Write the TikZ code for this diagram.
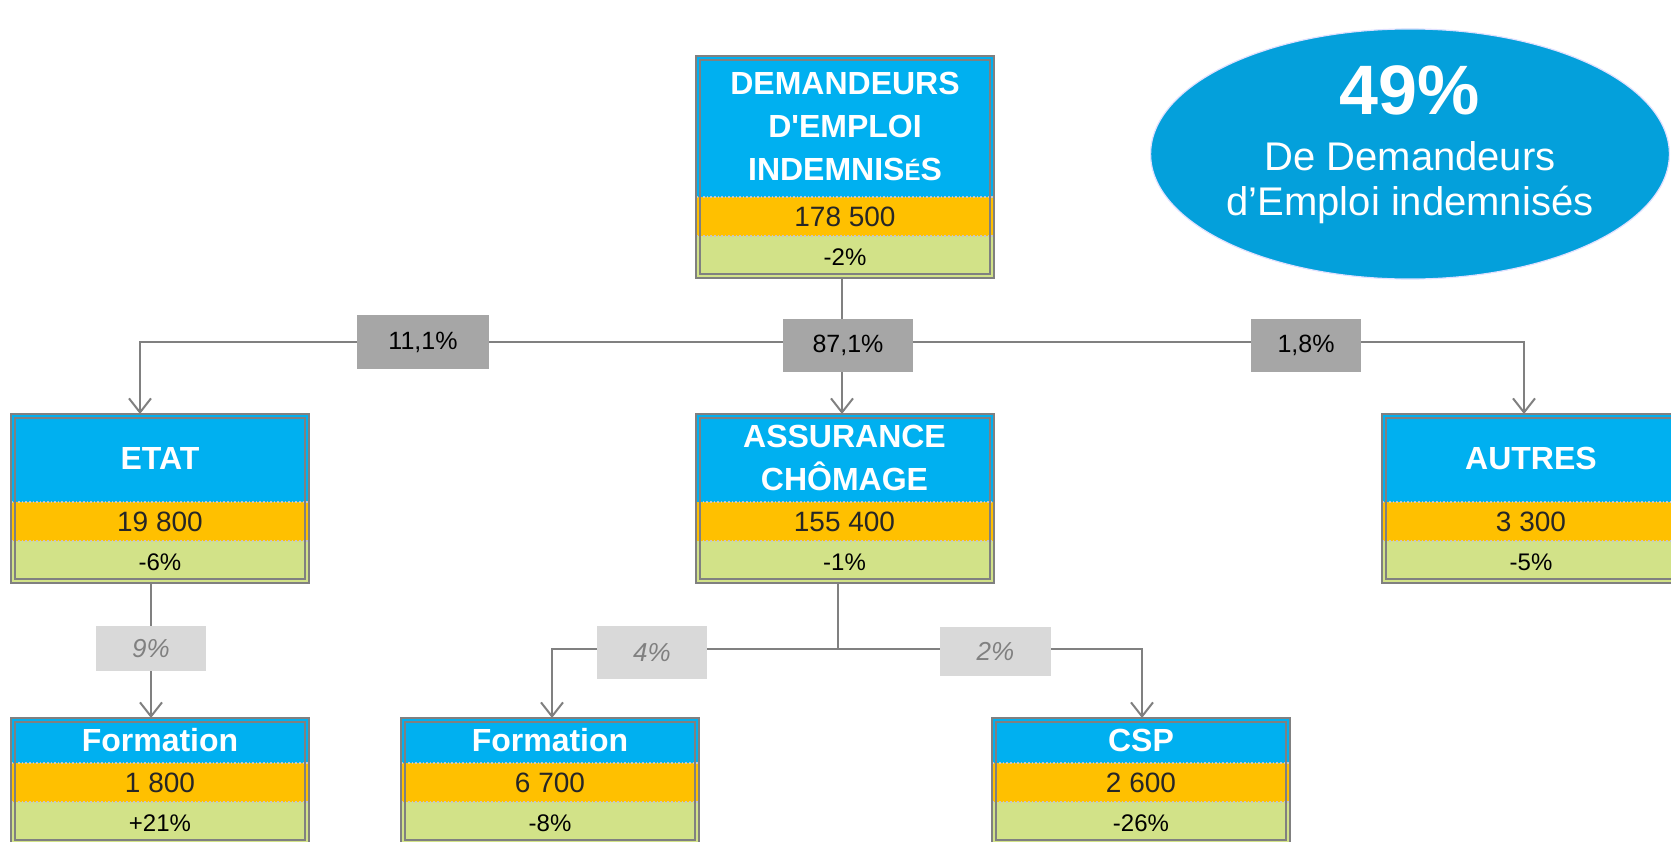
\documentclass[tikz,border=0pt]{standalone}
\usepackage{fontspec}
\setmainfont{Liberation Sans}
\usetikzlibrary{positioning,shapes.geometric,arrows.meta,backgrounds}

\definecolor{headblue}{RGB}{0,176,240}
\definecolor{amber}{RGB}{255,192,0}
\definecolor{lime}{RGB}{210,226,136}
\definecolor{framegray}{RGB}{128,128,128}
\definecolor{tagdark}{RGB}{166,166,166}
\definecolor{taglight}{RGB}{217,217,217}
\definecolor{bubbleblue}{RGB}{4,160,219}
\definecolor{numtext}{RGB}{38,38,38}

\begin{document}
\begin{tikzpicture}[x=0.5pt, y=-0.5pt,
        head/.style={rectangle, fill=headblue, text=white, font=\fontsize{16}{21.5}\selectfont\bfseries, minimum width=149pt, align=center, inner sep=0pt, outer sep=0pt},
        count/.style={rectangle, fill=amber, text=numtext, font=\fontsize{14}{16}\selectfont, minimum width=149pt, minimum height=19.5pt, inner sep=0pt, outer sep=0pt},
        change/.style={rectangle, fill=lime, text=black, font=\fontsize{12}{14}\selectfont, minimum width=149pt, minimum height=21pt, inner sep=0pt, outer sep=0pt},
        frame/.style={draw=framegray, line width=1pt},
        splitline/.style={draw=gray!45, line width=0.8pt, densely dotted},
        share/.style={rectangle, fill=tagdark, text=black, font=\fontsize{12.5}{14}\selectfont, inner sep=0pt},
        subshare/.style={rectangle, fill=taglight, text=black!50, font=\fontsize{13}{14}\selectfont\itshape, inner sep=0pt},
        link/.style={draw=framegray, line width=1pt},
        flow/.style={link, -{Straight Barb[length=7pt,width=11pt]}},
        bubble/.style={ellipse, fill=bubbleblue, draw=blue!12, line width=0.6pt, text=white, minimum width=258pt, minimum height=125pt, inner sep=0pt, align=center, font=\fontsize{20}{22.5}\selectfont}
    ]
    \useasboundingbox (0,0) rectangle (1671,841);

    % Share of the total
    \node[bubble] (bub) at (1410,154) {{\fontsize{35}{35}\selectfont\bfseries 49\%}\\[5.5pt]De Demandeurs\\d’Emploi indemnisés\rule[-13.5pt]{0pt}{0pt}};

    % Top box
    \node[head, minimum height=70.5pt] (dem) at (845,126.5) {DEMANDEURS\\D\textquotesingle EMPLOI\\INDEMNIS{\fontsize{12}{12}\selectfont É}S};
    \node[count, below=0pt of dem] (dem-n) {178 500};
    \node[change, below=0pt of dem-n] (dem-p) {-2\%};

    % Second row
    \node[head, minimum height=44pt] (etat) at (160,458) {ETAT};
    \node[count, below=0pt of etat] (etat-n) {19 800};
    \node[change, below=0pt of etat-n] (etat-p) {-6\%};

    \node[head, minimum height=44pt] (assur) at (844.5,458) {ASSURANCE\\CHÔMAGE};
    \node[count, below=0pt of assur] (assur-n) {155 400};
    \node[change, below=0pt of assur-n] (assur-p) {-1\%};

    \node[head, minimum height=44pt] (autres) at (1531,458) {AUTRES};
    \node[count, below=0pt of autres] (autres-n) {3 300};
    \node[change, below=0pt of autres-n] (autres-p) {-5\%};

    % Third row
    \node[head, minimum height=22.5pt] (form1) at (160,740.5) {Formation};
    \node[count, below=0pt of form1] (form1-n) {1 800};
    \node[change, below=0pt of form1-n] (form1-p) {+21\%};

    \node[head, minimum height=22.5pt] (form2) at (550,740.5) {Formation};
    \node[count, below=0pt of form2] (form2-n) {6 700};
    \node[change, below=0pt of form2-n] (form2-p) {-8\%};

    \node[head, minimum height=22.5pt] (csp) at (1141,740.5) {CSP};
    \node[count, below=0pt of csp] (csp-n) {2 600};
    \node[change, below=0pt of csp-n] (csp-p) {-26\%};

    \foreach \b in {dem,etat,assur,autres,form1,form2,csp} {
        \draw[splitline] (\b-n.north west) -- (\b-n.north east);
        \draw[splitline] (\b-p.north west) -- (\b-p.north east);
        \draw[frame] (\b.north west) rectangle (\b-p.south east);
        \draw[frame] ([shift={(2pt,-2pt)}]\b.north west) rectangle ([shift={(-2pt,2pt)}]\b-p.south east);
    }

    % Percent tags
    \node[share, minimum width=66pt, minimum height=27pt] (s111) at (423,342) {11,1\%};
    \node[share, minimum width=65pt, minimum height=26.5pt] (s871) at (848,345.5) {87,1\%};
    \node[share, minimum width=55pt, minimum height=26.5pt] (s18) at (1306,345.5) {1,8\%};
    \node[subshare, minimum width=55pt, minimum height=22.5pt] (s9) at (151,648.5) {9\%};
    \node[subshare, minimum width=55pt, minimum height=26.5pt] (s4) at (652,652.5) {4\%};
    \node[subshare, minimum width=55.5pt, minimum height=24.5pt] (s2) at (995.5,651.5) {2\%};

    \coordinate (hub) at (842,342);
    \coordinate (hub2) at (838,649);

    \begin{scope}[on background layer]
        \draw[link] (dem-p.south -| hub) -- (hub);
        \draw[flow] (hub) -- (hub |- assur.north);
        \draw[flow] (hub) -| ([xshift=-10pt]etat.north);
        \draw[flow] (hub) -| ([xshift=-3.5pt]autres.north);
        \draw[flow] ([xshift=-4.5pt]etat-p.south) -- ([xshift=-4.5pt]form1.north);
        \draw[link] (assur-p.south -| hub2) -- (hub2);
        \draw[flow] (hub2) -| ([xshift=1pt]form2.north);
        \draw[flow] (hub2) -| ([xshift=0.5pt]csp.north);
    \end{scope}
\end{tikzpicture}
\end{document}
